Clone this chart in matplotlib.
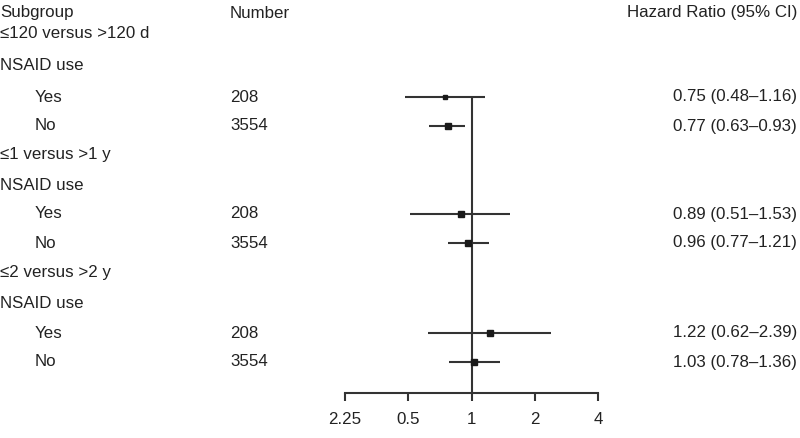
import numpy as np
import matplotlib
matplotlib.use('Agg')
import matplotlib.pyplot as plt
from matplotlib.transforms import blended_transform_factory

plt.rcParams['font.family'] = ['Liberation Sans', 'DejaVu Sans']

# rows of the table, top to bottom
row_labels = ['\u2264120 versus >120 d', 'NSAID use', 'Yes', 'No',
              '\u22641 versus >1 y', 'NSAID use', 'Yes', 'No',
              '\u22642 versus >2 y', 'NSAID use', 'Yes', 'No']
row_indent = [False, False, True, True] * 3
row_number = ['', '', '208', '3554'] * 3

# estimates, only for the Yes/No rows
hr = [0.75, 0.77, 0.89, 0.96, 1.22, 1.03]
ci_low = [0.48, 0.63, 0.51, 0.77, 0.62, 0.78]
ci_high = [1.16, 0.93, 1.53, 1.21, 2.39, 1.36]
marker_size = [3.5, 5, 5, 5, 5, 5]

tick_values = [0.25, 0.5, 1, 2, 4]
tick_labels = ['2.25', '0.5', '1', '2', '4']

# layout in pixels (figure is 800 x 438)
W, H = 800, 438
row_y = [33, 65, 97, 126, 155, 186, 214, 243, 272, 303, 333, 362]
header_y = 13
axis_y = 393
txt = '#222222'
line_col = '#333333'
fs = 12.2

fig = plt.figure(figsize=(W / 100, H / 100), dpi=100)
ax = fig.add_axes([345 / W, 0, 253 / W, 1])
ax.set_xscale('log', base=2)
ax.set_xlim(0.25, 4)
ax.set_ylim(H, 0)
ax.patch.set_visible(False)

for s in ['left', 'right', 'top']:
    ax.spines[s].set_visible(False)
ax.spines['bottom'].set_position(('data', axis_y))
ax.spines['bottom'].set_color(line_col)
ax.spines['bottom'].set_linewidth(1.5)
ax.set_yticks([])
ax.set_xticks(tick_values)
ax.set_xticklabels(tick_labels)
ax.xaxis.set_minor_locator(matplotlib.ticker.NullLocator())
ax.tick_params(axis='x', direction='out', length=6, width=1.5, color=line_col,
               labelsize=fs, labelcolor=txt, pad=8)

# reference line at HR = 1
ax.vlines(1, 96, axis_y, color=line_col, lw=1.5)

est_rows = [i for i, n in enumerate(row_number) if n]
ys = np.array([row_y[i] for i in est_rows])
ax.hlines(ys, ci_low, ci_high, color=line_col, lw=1.5)
for x, y, ms in zip(hr, ys, marker_size):
    ax.plot(x, y, 's', color='#1a1a1a', ms=ms, zorder=3)

tr = blended_transform_factory(fig.transFigure, ax.transData)
ax.text(0 / W, header_y, 'Subgroup', transform=tr, fontsize=fs, color=txt,
        ha='left', va='center')
ax.text(230 / W, header_y, 'Number', transform=tr, fontsize=fs, color=txt,
        ha='left', va='center')
ax.text(797 / W, header_y, 'Hazard Ratio (95% CI)', transform=tr, fontsize=fs,
        color=txt, ha='right', va='center')

for lab, ind, num, y in zip(row_labels, row_indent, row_number, row_y):
    ax.text((35 if ind else 0) / W, y, lab, transform=tr, fontsize=fs,
            color=txt, ha='left', va='center')
    if num:
        ax.text(230 / W, y, num, transform=tr, fontsize=fs, color=txt,
                ha='left', va='center')

for i, y in enumerate(ys):
    s = '%.2f (%.2f\u2013%.2f)' % (hr[i], ci_low[i], ci_high[i])
    ax.text(797 / W, y, s, transform=tr, fontsize=fs, color=txt,
            ha='right', va='center')

fig.savefig('out.png', dpi=100)
